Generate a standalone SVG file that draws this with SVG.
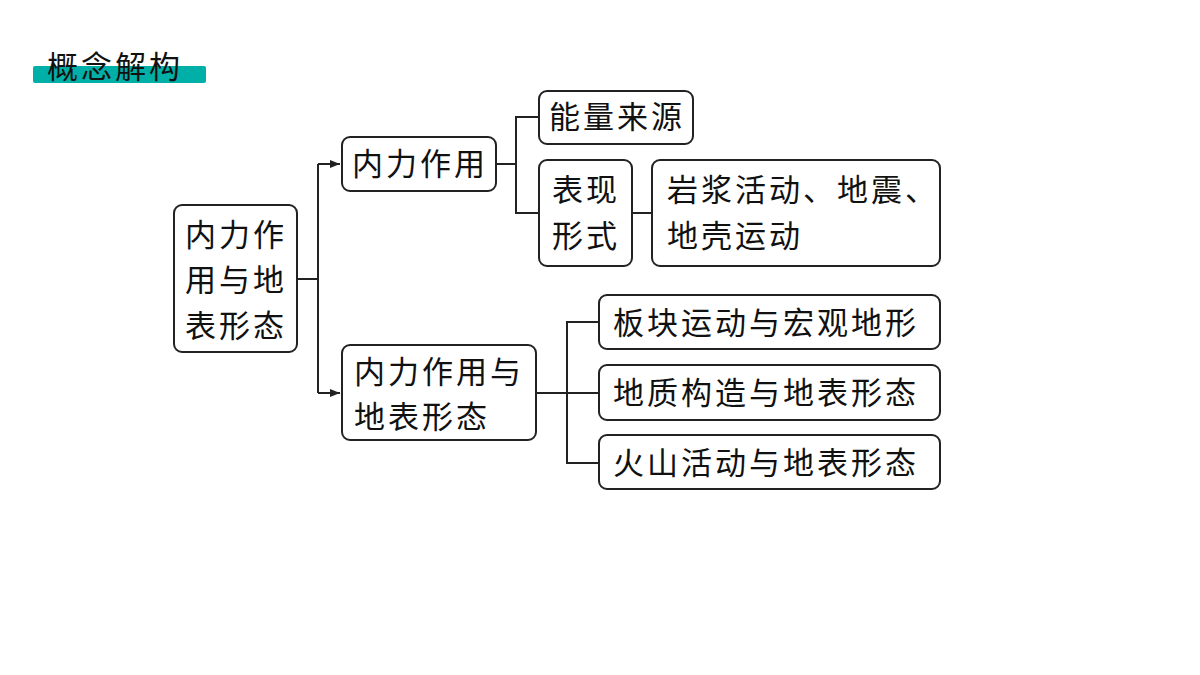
<svg xmlns="http://www.w3.org/2000/svg" width="1200" height="675" viewBox="0 0 1200 675">
<style>
.n{fill:#fff;stroke:#222;stroke-width:2}
.t{font-family:"Noto Sans CJK SC",sans-serif;font-size:31px;fill:#111;letter-spacing:3px}
.c{fill:none;stroke:#222;stroke-width:2}
</style>
<defs><marker id="a" markerWidth="10" markerHeight="8" refX="10" refY="4" orient="auto" markerUnits="userSpaceOnUse"><path d="M0,0L10,4L0,8z" fill="#222"/></marker></defs>
<rect width="1200" height="675" fill="#fff"/>
<g id="title"><rect x="33" y="66" width="173" height="17" rx="2" fill="#00AFA8"/><text x="47" y="78" class="t" style="letter-spacing:3px">概念解构</text></g>
<g id="connectors">
<path class="c" d="M297,279H318M318,164V393"/>
<path class="c" d="M318,164H340" marker-end="url(#a)"/>
<path class="c" d="M318,393H340" marker-end="url(#a)"/>
<path class="c" d="M496,164H516M539,117H516V213H539"/>
<path class="c" d="M632,213H652"/>
<path class="c" d="M536,393H567M599,322H567V463H599M567,393H599"/>
</g>
<g id="A"><rect class="n" x="174" y="205" width="123" height="147" rx="8"/><text class="t" x="185" y="246">内力作</text><text class="t" x="185" y="291">用与地</text><text class="t" x="185" y="337">表形态</text></g>
<g id="B1"><rect class="n" x="342" y="137" width="154" height="54" rx="8"/><text class="t" x="352" y="175">内力作用</text></g>
<g id="B2"><rect class="n" x="342" y="345" width="194" height="95" rx="8"/><text class="t" x="354" y="383">内力作用与</text><text class="t" x="354" y="428">地表形态</text></g>
<g id="C1"><rect class="n" x="539" y="91" width="154" height="53" rx="8"/><text class="t" x="549" y="128">能量来源</text></g>
<g id="C2"><rect class="n" x="539" y="160" width="93" height="106" rx="8"/><text class="t" x="552" y="201">表现</text><text class="t" x="552" y="247">形式</text></g>
<g id="D"><rect class="n" x="652" y="160" width="288" height="106" rx="8"/><text class="t" x="667" y="201">岩浆活动、地震、</text><text class="t" x="667" y="247">地壳运动</text></g>
<g id="E1"><rect class="n" x="599" y="295" width="341" height="54" rx="8"/><text class="t" x="613" y="334">板块运动与宏观地形</text></g>
<g id="E2"><rect class="n" x="599" y="365" width="341" height="55" rx="8"/><text class="t" x="613" y="404">地质构造与地表形态</text></g>
<g id="E3"><rect class="n" x="599" y="435" width="341" height="54" rx="8"/><text class="t" x="613" y="474">火山活动与地表形态</text></g>
</svg>
